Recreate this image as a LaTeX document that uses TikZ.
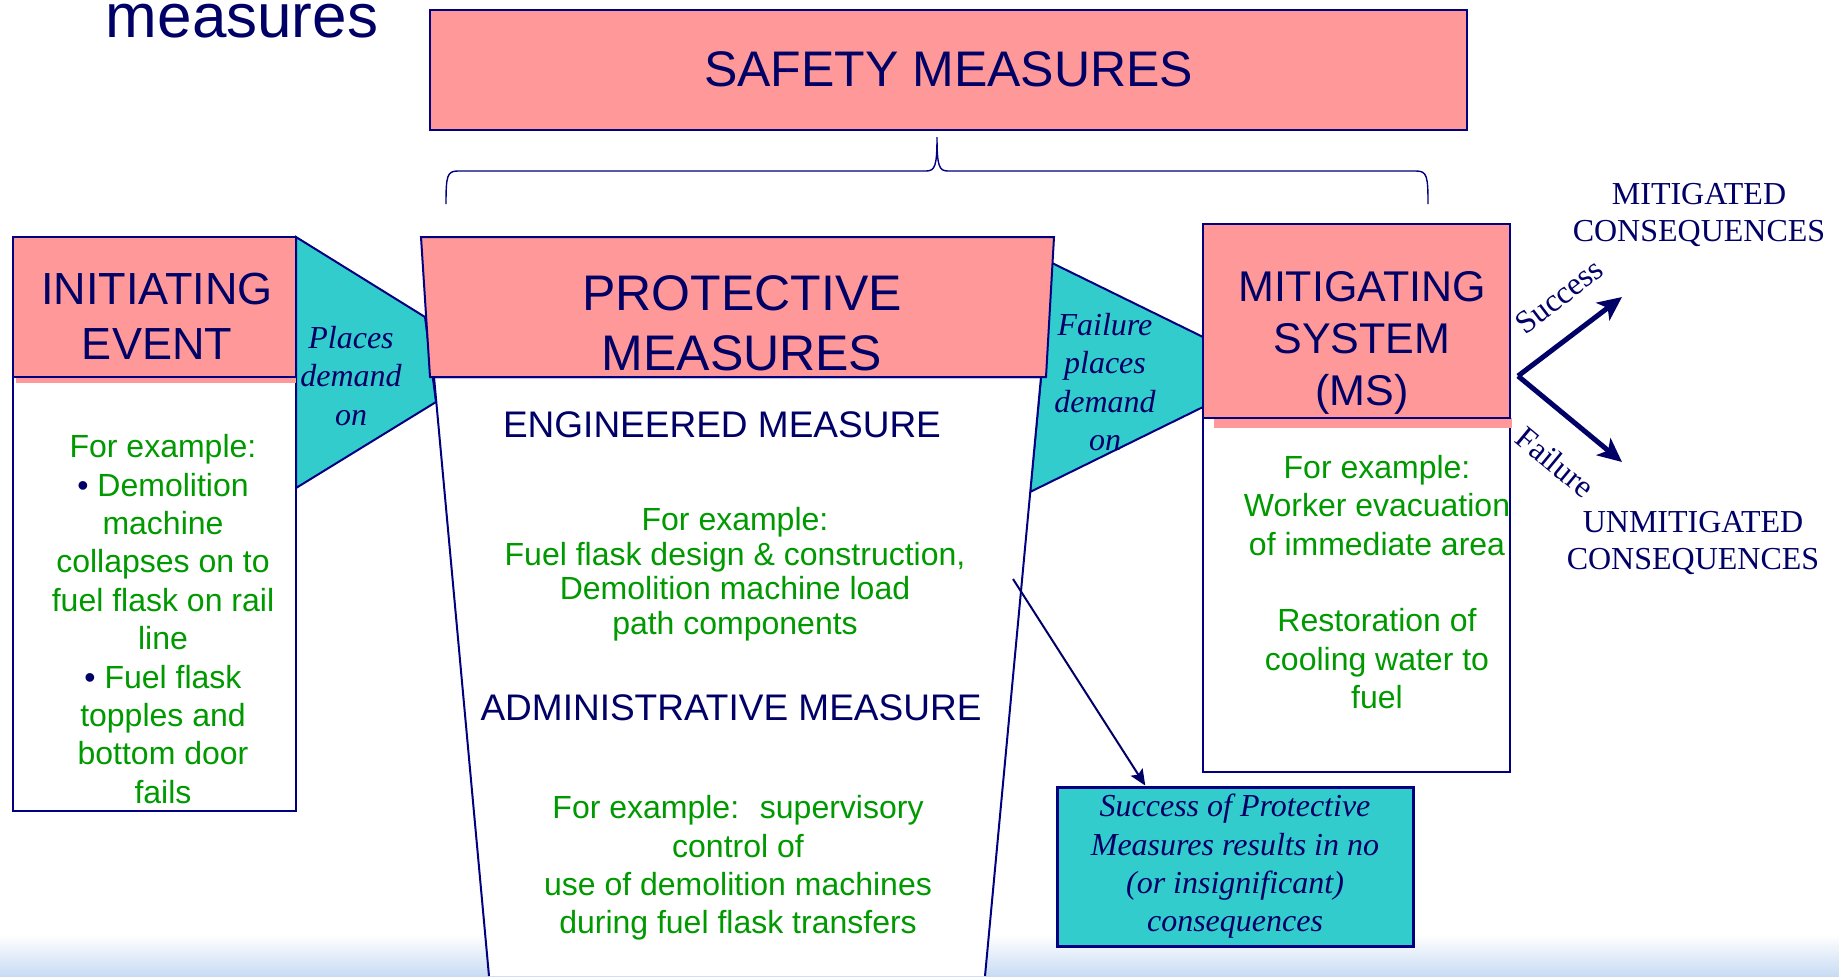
\documentclass[tikz,border=0pt]{standalone}
\usepackage{fontspec}
\setmainfont{Liberation Sans}
\newfontfamily\timesfont{Liberation Serif}
\usetikzlibrary{calc,arrows.meta}

\definecolor{salmon}{HTML}{FF9999}
\definecolor{aqua}{HTML}{33CCCC}
\definecolor{navy}{HTML}{000080}
\definecolor{ink}{HTML}{000066}
\definecolor{leaf}{HTML}{009900}
\definecolor{band}{HTML}{C8DBF3}

\begin{document}
\begin{tikzpicture}[x=0.5pt,y=-0.5pt,every node/.style={inner sep=0pt,align=center}]

\tikzstyle{box}=[draw=navy,fill=white,line width=1pt,rectangle];
\tikzstyle{header}=[draw=navy,fill=salmon,line width=1pt,rectangle];
\tikzstyle{demand}=[draw=navy,fill=aqua,line width=1pt];
\tikzstyle{greentext}=[text=leaf,font=\fontsize{16pt}{19.2pt}\selectfont];
\tikzstyle{italicnote}=[text=ink,font=\timesfont\itshape\fontsize{16pt}{19.2pt}\selectfont];
\tikzstyle{conseq}=[text=ink,font=\timesfont\fontsize{16pt}{18.5pt}\selectfont];
\tikzstyle{branch}=[draw=ink,line width=2.5pt,-{Stealth[length=12pt,width=11pt,inset=3pt]}];
\tikzstyle{flow}=[draw=ink,line width=1pt,-{Stealth[length=8pt,width=7pt,inset=1.5pt]}];

\useasboundingbox (0,0) rectangle (1839,976);
\shade[top color=white,bottom color=band] (0,935) rectangle (1839,976);

% title and top box
\node[text=ink,anchor=base,font=\fontsize{31pt}{31pt}\selectfont] (title) at (242,37) {measures};
\node[header,minimum width=518.5pt,minimum height=60pt,text=ink,font=\fontsize{25pt}{30pt}\selectfont] (safety) at (948.5,69.5) {SAFETY MEASURES};
\draw[navy,line width=0.7pt] (446,204) .. controls (446,176) and (447,171) .. (458,171) -- (926,171) .. controls (935,171) and (937,166) .. (937,137) .. controls (937,166) and (939,171) .. (948,171) -- (1416,171) .. controls (1427,171) and (1428,176) .. (1428,204);

% demand wedges
\draw[demand] (296,237) -- (425,317) -- (436,402) -- (296,488) -- cycle;
\draw[demand] (1052,263) -- (1203,337) -- (1203,407) -- (1030,492) -- cycle;

% initiating event
\node[box,minimum width=141.5pt,minimum height=217pt] (iebody) at (154.5,594) {};
\fill[salmon] (16,377) rectangle (296,383);
\node[header,minimum width=141.5pt,minimum height=70pt] (iehead) at (154.5,307) {};
\node[text=ink,font=\fontsize{22.5pt}{27.5pt}\selectfont] (ietitle) at (157,316) {INITIATING\\EVENT};
\node[greentext] (ieex) at (163,619) {For example:\\\textcolor{ink}{•} Demolition\\machine\\collapses on to\\fuel flask on rail\\line\\\textcolor{ink}{•} Fuel flask\\topples and\\bottom door\\fails};
\node[italicnote] (placestxt) at (351,376) {Places\\demand\\on};

% protective measures
\fill[white] (434,377) -- (1041,377) -- (985,976) -- (489,976) -- cycle;
\draw[navy,line width=1pt] (489,976) -- (434,377) -- (1041,377) -- (985,976);
\draw[header] (421,237) -- (1054,237) -- (1046,377) -- (430,377) -- cycle;
\node[text=ink,font=\fontsize{25pt}{30pt}\selectfont] (pmtitle) at (742,323) {PROTECTIVE\\MEASURES};
\node[text=ink,font=\fontsize{18.5pt}{22pt}\selectfont] (engtitle) at (722,425) {ENGINEERED MEASURE};
\node[greentext,font=\fontsize{16pt}{17.25pt}\selectfont] (engex) at (735,574) {For example:\\Fuel flask design \& construction,\\Demolition machine load\\path components};
\node[text=ink,font=\fontsize{18.5pt}{22pt}\selectfont] (admtitle) at (731,708) {ADMINISTRATIVE MEASURE};
\node[greentext] (admex) at (738,868) {For example:~ supervisory\\control of\\use of demolition machines\\during fuel flask transfers};

% mitigating system
\node[italicnote] (failtxt) at (1105,382) {Failure\\places\\demand\\on};
\node[box,minimum width=153.5pt,minimum height=177pt] (msbody) at (1356.5,595) {};
\fill[salmon] (1214,418) rectangle (1512,428);
\node[header,minimum width=153.5pt,minimum height=97pt] (mshead) at (1356.5,321) {};
\node[text=ink,font=\fontsize{21.5pt}{26pt}\selectfont] (mstitle) at (1362,343) {MITIGATING\\SYSTEM\\(MS)};
\node[greentext] (msex) at (1377,582) {For example:\\Worker evacuation\\of immediate area\\[19.2pt]Restoration of\\cooling water to\\fuel};

% outcomes
\coordinate (fork) at (1518,376);
\coordinate (succend) at (1622,297);
\coordinate (failend) at (1622,462);
\draw[branch] (fork) -- node[conseq,sloped,above=12.7pt,pos=0.62] (succlbl) {Success} (succend);
\draw[branch] (fork) -- node[conseq,sloped,below=14.5pt,pos=0.62] (faillbl) {Failure} (failend);
\node[conseq] (mitcons) at (1699,214.5) {MITIGATED\\CONSEQUENCES};
\node[conseq] (unmitcons) at (1693,542.5) {UNMITIGATED\\CONSEQUENCES};

\node[draw=navy,fill=aqua,line width=1.5pt,minimum width=178pt,minimum height=79.5pt,italicnote] (succbox) at (1235,866.5) {Success of Protective\\Measures results in no\\(or insignificant)\\consequences};
\coordinate (pmarrow) at (1013,579);
\draw[flow] (pmarrow) -- ($(succbox.north west)!0.25!(succbox.north east)$);

\end{tikzpicture}
\end{document}
